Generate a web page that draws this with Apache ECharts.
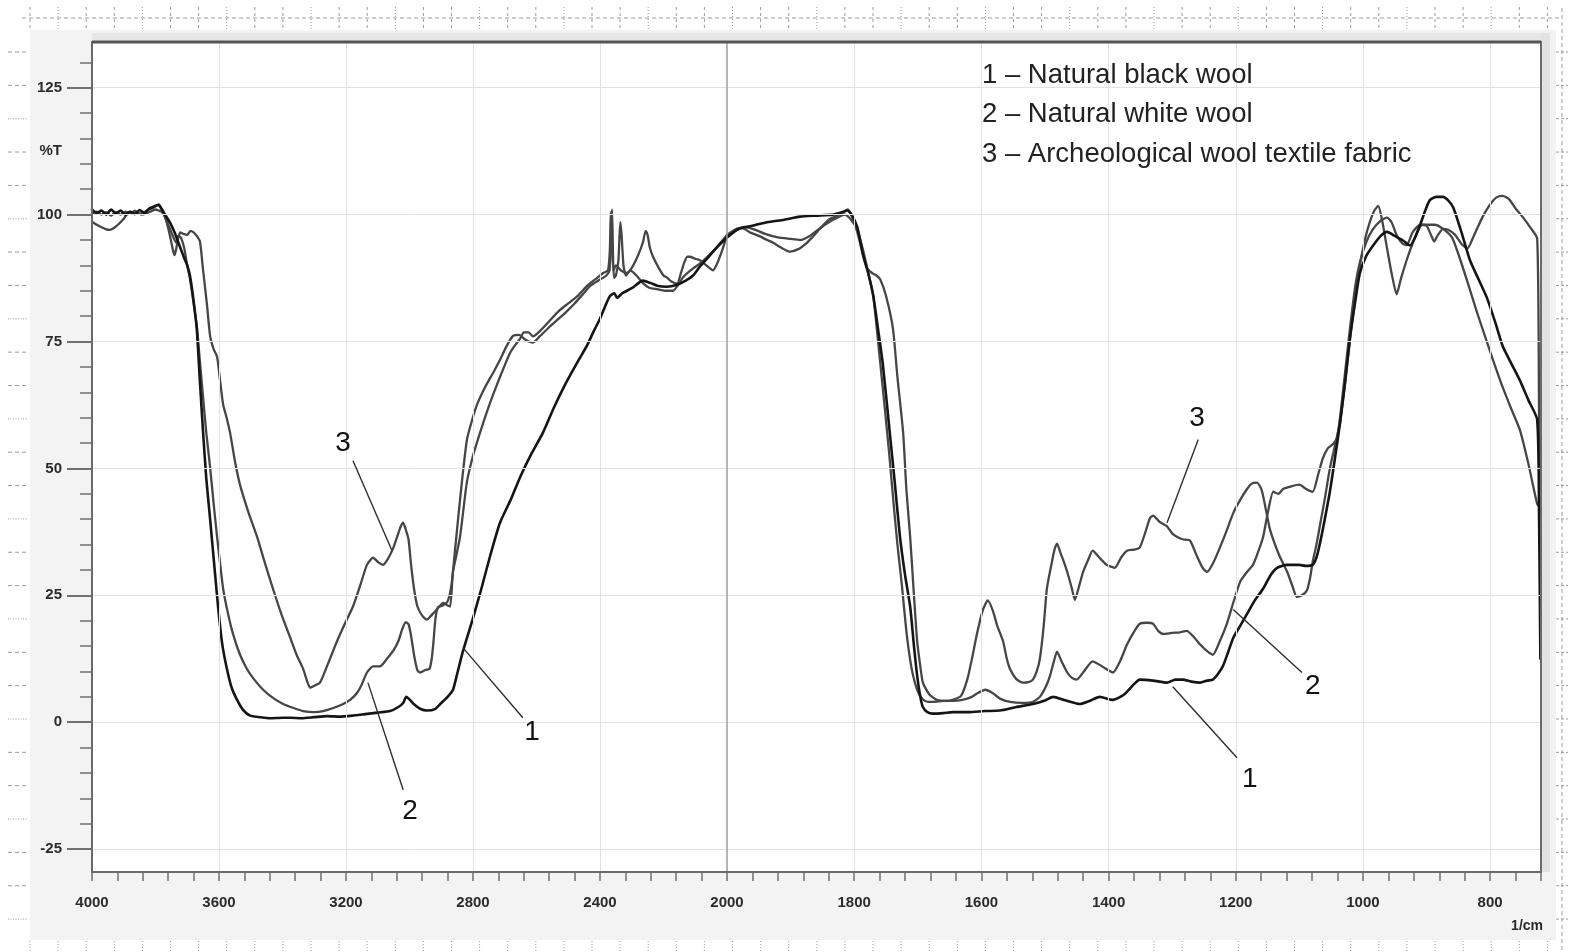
<!DOCTYPE html>
<html>
<head>
<meta charset="utf-8">
<title>FTIR spectra of wool samples</title>
<script src="https://cdn.jsdelivr.net/npm/echarts@6/dist/echarts.min.js"></script>
<style>
  html, body { margin: 0; padding: 0; background: #ffffff; }
  #chart { width: 1569px; height: 952px; }
</style>
</head>
<body>
<div id="chart"></div>
<script>
// ---------------------------------------------------------------
// Spectra: [wavenumber (1/cm), transmittance (%T)]
// ---------------------------------------------------------------
const blackWool = [
  [4000,101],[3985,100.3],[3970,100.8],[3955,100],[3940,101],[3925,100.2],[3910,100.8],[3895,100],
  [3880,100.6],[3865,100.1],[3850,100.9],[3835,100.3],[3820,101.2],[3805,101.6],[3790,102],[3780,101],
  [3770,100],[3755,98.5],[3740,96.5],[3725,94],[3710,91.5],[3700,90],[3691,87.8],[3680,83],[3670,77.5],
  [3660,67],[3650,57],[3640,48],[3628,40],[3615,31],[3603,22.8],[3590,15.5],[3575,10.5],[3560,6.8],
  [3543,4.4],[3525,2.5],[3502,1.3],[3470,1],[3440,0.8],[3400,0.9],[3376,0.9],[3340,0.8],[3300,1],
  [3260,1.2],[3220,1.1],[3180,1.3],[3140,1.6],[3100,1.9],[3061,2.2],[3035,3],[3020,3.8],[3010,5],
  [3000,4.5],[2985,3.5],[2965,2.6],[2945,2.3],[2920,2.6],[2900,3.8],[2880,5],[2863,6.4],[2850,9.5],
  [2832,13.9],[2800,20.5],[2775,26],[2745,33],[2715,39.3],[2680,44],[2650,48.5],[2615,53],[2580,57],
  [2545,62],[2510,66.5],[2475,70.5],[2441,74.2],[2420,77],[2400,79.5],[2380,82.5],[2368,84],[2355,84.5],
  [2346,83.6],[2330,84.5],[2300,85.5],[2265,87],[2240,86.5],[2220,86],[2190,85.8],[2157,86.2],[2130,87],
  [2107,88],[2085,89.8],[2060,91.5],[2040,93],[2020,94.3],[2000,95.5],
  [1980,97.3],[1960,97.8],[1937,98.5],[1910,99],[1885,99.6],[1860,99.8],[1833,100],[1818,100.5],
  [1811,100.8],[1805,100.2],[1795,97.5],[1786,92],[1778,88.5],[1770,84],[1762,77],[1755,70.6],[1744,57],
  [1736,47],[1728,36.5],[1720,29],[1712,22.8],[1706,15],[1701,9.2],[1696,5],[1692,3],[1685,2],[1676,1.7],
  [1660,1.8],[1645,2],[1620,2],[1595,2.2],[1571,2.3],[1545,3],[1519,3.6],[1500,4.3],[1487,5],[1470,4.4],
  [1445,3.6],[1430,4.2],[1414,5],[1393,4.4],[1375,5.5],[1360,7.5],[1351,8.4],[1330,8.2],[1308,7.8],
  [1295,8.4],[1283,8.4],[1270,8],[1256,7.8],[1245,8.2],[1236,8.4],[1228,9.5],[1220,11.1],[1212,13.8],
  [1204,16.6],[1193,19],[1182,21.4],[1170,24],[1157,26.3],[1145,29],[1135,30.4],[1120,31],[1100,31],
  [1090,30.8],[1079,31],[1073,32.5],[1068,35],[1060,40],[1052,45.4],[1044,52],[1036,59],[1028,67],
  [1020,76],[1012,83],[1005,88.4],[995,91.8],[984,93.9],[972,95.8],[962,96.6],[950,95.8],[937,94.9],
  [926,93.9],[918,95.5],[910,98],[902,100.8],[895,102.8],[885,103.5],[874,103.5],[866,102.8],[858,101.4],
  [845,96.5],[832,91.1],[818,87.2],[805,83.6],[792,78.8],[780,74],[766,70.5],[753,67.3],[740,63.5],
  [726,59.6],[723,40],[721,12.5]
];

const whiteWool = [
  [4000,98.6],[3985,98],[3970,97.5],[3955,97.1],[3945,97],[3930,97.4],[3915,98.2],[3900,99.2],[3890,100],
  [3875,100.4],[3860,100.5],[3845,100],[3830,100.2],[3815,100.6],[3800,101],[3790,100.8],[3780,100.5],
  [3770,99.5],[3760,98],[3750,96.5],[3740,95],[3735,94.5],[3728,95.8],[3720,95.5],[3710,93.5],[3700,90],
  [3691,87.2],[3680,82.5],[3669,77.5],[3660,71],[3650,63.9],[3640,57],[3628,50.2],[3616,42.5],[3606,36.5],
  [3596,31],[3587,26.3],[3572,21.5],[3556,17.4],[3535,13.5],[3512,10.5],[3490,8.5],[3461,6.4],[3430,4.8],
  [3398,3.6],[3365,2.8],[3335,2.2],[3300,2],[3272,2.2],[3240,2.8],[3209,3.6],[3185,4.5],[3165,5.8],
  [3150,7.5],[3134,9.8],[3115,11],[3093,11],[3071,12.5],[3050,14.2],[3035,16],[3022,18.5],[3012,19.7],
  [3003,19.3],[2995,17],[2985,13],[2975,10.2],[2967,9.8],[2950,10.3],[2937,10.5],[2930,12.5],[2925,15.5],
  [2918,20.5],[2910,22.7],[2895,23],[2880,23.8],[2868,27],[2858,33],[2847,40],[2833,48.5],[2819,55.7],
  [2803,59.5],[2787,62.6],[2770,65],[2756,66.7],[2735,69],[2715,71.4],[2695,74],[2674,76.1],[2655,76.3],
  [2640,75.6],[2625,75],[2611,74.8],[2590,76],[2557,78],[2530,79.5],[2504,81],[2480,82.5],[2454,84.3],
  [2430,86],[2400,87.2],[2380,88],[2370,89],[2365,96],[2362,101],[2359,92],[2356,87.5],[2350,88],
  [2342,91],[2336,98.5],[2332,96],[2326,90],[2318,88],[2305,89],[2285,88],[2265,86.5],[2245,85.6],
  [2220,85.3],[2195,85],[2170,85],[2150,86.5],[2139,87.6],[2115,89],[2085,90.4],[2060,91.8],[2040,93],
  [2020,94.5],[2000,96],
  [1985,97.2],[1970,97.5],[1955,97],[1940,96.2],[1920,95.5],[1900,95.2],[1885,95],[1870,95.8],[1855,97.2],
  [1840,98.5],[1825,99.5],[1815,100],[1805,99],[1795,97],[1785,92.5],[1777,88],[1770,84],[1760,72],
  [1752,62],[1745,53],[1738,43],[1732,35],[1725,27],[1718,18],[1711,11.5],[1705,8],[1698,5.5],[1692,4.5],
  [1684,4],[1676,4],[1660,4.2],[1645,4.2],[1630,4.4],[1615,5],[1605,5.8],[1594,6.4],[1583,5.8],[1570,4.6],
  [1555,4],[1535,3.8],[1519,4],[1508,5],[1498,7.2],[1492,9.2],[1486,12],[1481,13.9],[1474,12],[1465,9.8],
  [1458,8.8],[1450,8.4],[1440,9.8],[1425,12],[1410,11],[1393,9.8],[1382,12],[1371,15.3],[1360,17.8],
  [1351,19.4],[1340,19.6],[1330,19.4],[1322,18],[1314,17.4],[1300,17.6],[1288,17.7],[1277,18],[1266,16.8],
  [1256,15.3],[1245,14],[1236,13.3],[1225,16],[1214,19.4],[1204,23.5],[1193,27.7],[1183,29.5],[1173,31],
  [1165,33.5],[1157,36.5],[1150,41],[1141,45.4],[1133,45],[1125,46],[1112,46.5],[1100,46.8],[1090,46],
  [1079,45.4],[1070,49],[1063,52],[1055,54],[1047,54.8],[1041,56],[1036,60],[1028,69],[1020,78],[1012,86],
  [1005,90.5],[995,94.5],[985,97],[972,98.8],[962,99.4],[955,98.5],[947,96],[938,94.3],[931,94],[922,96.5],
  [910,98],[900,97.8],[893,96],[888,94.7],[882,96],[874,97.2],[866,97],[855,96],[845,94.2],[836,93.3],
  [825,96],[812,99.5],[800,102],[790,103.4],[780,103.7],[770,103],[760,101.2],[748,99.4],[737,97.5],
  [726,95.3],[723,60],[721,38]
];

const archeoFabric = [
  [4000,100.2],[3985,100.6],[3970,100],[3955,100.5],[3940,99.8],[3925,100.5],[3910,100],[3895,100.6],
  [3880,100.2],[3865,100.8],[3850,100.2],[3835,100.5],[3820,101],[3805,101.4],[3795,101.8],[3785,101.5],
  [3775,100.5],[3765,98.5],[3755,96],[3745,93],[3740,92],[3734,93.5],[3728,95.5],[3722,96.5],[3712,96.2],
  [3700,96],[3690,96.8],[3680,96.5],[3670,95.8],[3660,94.7],[3650,89],[3638,82.3],[3628,76.1],[3617,73.5],
  [3606,72],[3597,67.5],[3587,62.6],[3576,60],[3565,57],[3550,51.5],[3534,46.8],[3508,41.5],[3480,36.5],
  [3455,31.3],[3430,26.3],[3403,21.2],[3376,16.7],[3355,13.2],[3335,10.5],[3322,8],[3313,6.8],[3300,7.2],
  [3282,7.8],[3255,11.8],[3228,16],[3203,19.5],[3178,22.8],[3155,27],[3134,31],[3115,32.4],[3098,31.5],
  [3083,31],[3070,32],[3061,33],[3050,34.5],[3039,36.5],[3028,38.5],[3020,39.3],[3012,38],[3003,36],
  [2995,31],[2985,26],[2975,22.8],[2960,21],[2945,20.2],[2935,20.8],[2926,21.4],[2910,22.5],[2894,23.5],
  [2880,23],[2872,22.8],[2863,29.6],[2852,33],[2841,36.5],[2830,42],[2819,47.4],[2800,52.5],[2778,57],
  [2757,61],[2737,64.5],[2710,68.8],[2683,72.8],[2665,74.5],[2652,75.5],[2640,76.8],[2625,76.8],[2611,76],
  [2590,77],[2560,79],[2530,81],[2500,82.5],[2470,84],[2440,86],[2410,87.5],[2390,88.5],[2375,89],
  [2369,93],[2366,100.5],[2362,93],[2357,89],[2350,90],[2334,89],[2315,88.5],[2300,89.5],[2280,92],
  [2265,94.5],[2256,96.8],[2250,96],[2243,93.5],[2233,91.7],[2215,89.5],[2200,88],[2189,87.6],[2175,86.8],
  [2157,86.4],[2145,88.5],[2135,90.5],[2125,91.7],[2117,91.7],[2100,91.3],[2085,91],[2065,90],[2044,89],
  [2030,90.5],[2015,93],[2000,95.9],
  [1985,97],[1975,97.3],[1964,96.5],[1950,95.8],[1937,95],[1928,94.5],[1915,93.5],[1901,92.7],[1888,93.2],
  [1874,94.5],[1864,95.8],[1854,97.2],[1840,99],[1830,99.6],[1820,100.2],[1810,101],[1803,99.5],[1795,96.5],
  [1788,93],[1780,89.5],[1772,88.5],[1765,88],[1759,87.2],[1750,84],[1739,77.5],[1732,68],[1723,57],
  [1718,46],[1712,36.5],[1706,25],[1701,16],[1696,11],[1692,7.8],[1682,5.5],[1670,4.4],[1655,4.2],
  [1645,4.4],[1632,5.2],[1622,8.5],[1614,13],[1607,17.4],[1598,22],[1590,24],[1582,22],[1575,19],[1566,16],
  [1560,12.5],[1555,10.5],[1545,8.5],[1535,7.8],[1526,7.9],[1519,8.4],[1513,10],[1508,12.5],[1502,19],
  [1497,26.3],[1490,31],[1485,34],[1481,35.2],[1476,33.5],[1470,31.5],[1465,29.6],[1458,26.5],[1453,24.1],
  [1447,26.5],[1440,29.6],[1432,32],[1425,33.8],[1415,32.5],[1403,31],[1395,30.6],[1390,30.4],[1380,32.5],
  [1371,33.8],[1360,34],[1351,34.4],[1342,37.5],[1335,40.2],[1330,40.7],[1320,39.5],[1308,38.6],[1300,37.2],
  [1292,36.5],[1282,36],[1272,35.8],[1262,33],[1252,30.4],[1245,29.6],[1235,31.5],[1225,34.4],[1215,37.5],
  [1204,41.2],[1193,43.8],[1182,46],[1175,47],[1167,47.2],[1160,46],[1157,44.6],[1152,41.5],[1146,37.9],
  [1132,33],[1119,29.6],[1110,26.5],[1104,24.7],[1096,25],[1088,26],[1083,28.5],[1079,31.6],[1073,35],
  [1068,38.5],[1060,44],[1052,50],[1044,54.5],[1036,59],[1028,67],[1020,76],[1012,83.5],[1005,89.8],
  [997,95],[989,98.6],[982,100.8],[976,101.7],[970,99],[963,94],[955,88.5],[947,84.3],[940,87.5],
  [930,91.5],[921,94.6],[913,97],[906,98],[895,98],[887,98],[874,97.2],[860,95.5],[848,91.5],[835,86.5],
  [821,80.9],[808,76],[795,71.2],[780,65.9],[766,61.5],[753,57.5],[740,51],[726,43],[722,42.5]
];

// Legend lines and curve number tags with their leader lines
const legendLines = [
  '1 \u2013 Natural black wool',
  '2 \u2013 Natural white wool',
  '3 \u2013 Archeological wool textile fabric'
];
const tagsHigh = [['3', 3209, 55], ['2', 2998, -17.6], ['1', 2614, -1.9]];          // 4000-2000 region
const leadersHigh = [[[3178, 51.5], [3055, 33.8]], [[3131, 7.8], [3020, -13.3]], [[2832, 14.7], [2643, 0.9]]];
const tagsLow = [['3', 1261, 59.8], ['2', 1079, 7], ['1', 1178, -11.3]];            // 2000-720 region
const leadersLow = [[[1259, 55.7], [1308, 39.3]], [[1204, 22.2], [1096, 9.8]], [[1299, 7], [1198, -7]]];

// Axis ticks / labels
const yMajorTicks = [-25, 0, 25, 50, 75, 100, 125];
const yMinorTicks = [-20,-15,-10,-5,5,10,15,20,30,35,40,45,55,60,65,70,80,85,90,95,105,110,115,120,130];
const yUnitAt = 112.5;
const xGridHigh = [3600, 3200, 2800, 2400];
const xGridLow = [1800, 1600, 1400, 1200, 1000, 800];

// ---------------------------------------------------------------
// Layout: the 4000-2000 range is drawn at half the scale of 2000-720
// ---------------------------------------------------------------
const W = 1569, H = 952;
const PLOT = { left: 92, top: 42, bottom: 872, split: 727, right: 1541 };
const Y_MIN = -29.5, Y_MAX = 134;
const SPLIT_WN = 2000;

const FONT = '"Liberation Sans", Arial, sans-serif';
const TICK_COLOR = '#707070';
const tickLabel = { fontFamily: FONT, fontSize: 15, fontWeight: 'bold', color: '#2b2b2b' };

const part = (pts, high) => pts.filter(p => high ? p[0] >= SPLIT_WN : p[0] <= SPLIT_WN);

const curves = [
  { name: '1', pts: blackWool, color: '#151515', width: 2.6 },
  { name: '2', pts: whiteWool, color: '#464646', width: 2.3 },
  { name: '3', pts: archeoFabric, color: '#464646', width: 2.3 }
];

const series = [];

// faint reference grid + 2000 divider
const gridLineStyle = { color: '#e2e2e2', width: 1, type: 'solid' };
series.push({
  type: 'line', xAxisIndex: 0, yAxisIndex: 0, data: [], silent: true, z: 1,
  markLine: {
    silent: true, symbol: ['none', 'none'], label: { show: false }, animation: false,
    lineStyle: gridLineStyle,
    data: yMajorTicks.map(v => ({ yAxis: v })).concat(xGridHigh.map(v => ({ xAxis: v })))
  }
});
series.push({
  type: 'line', xAxisIndex: 1, yAxisIndex: 2, data: [], silent: true, z: 1,
  markLine: {
    silent: true, symbol: ['none', 'none'], label: { show: false }, animation: false,
    lineStyle: gridLineStyle,
    data: yMajorTicks.map(v => ({ yAxis: v })).concat(xGridLow.map(v => ({ xAxis: v })))
      .concat([{ xAxis: SPLIT_WN, lineStyle: { color: '#9c9c9c', width: 1.5 } }])
  }
});

curves.forEach(c => {
  [true, false].forEach(high => {
    series.push({
      name: c.name, type: 'line',
      xAxisIndex: high ? 0 : 1, yAxisIndex: high ? 0 : 2,
      data: part(c.pts, high),
      showSymbol: false, symbol: 'none', smooth: 0.2, z: c.name === '1' ? 4 : 3,
      lineStyle: { color: c.color, width: c.width, cap: 'round', join: 'round' },
      silent: true
    });
  });
});

[[leadersHigh, 0, 0], [leadersLow, 1, 2]].forEach(([list, xi, yi]) => {
  list.forEach(seg => series.push({
    type: 'line', xAxisIndex: xi, yAxisIndex: yi, data: seg, symbol: 'none', silent: true, z: 5,
    lineStyle: { color: '#2e2e2e', width: 1.4 }
  }));
});

[[tagsHigh, 0, 0], [tagsLow, 1, 2]].forEach(([list, xi, yi]) => {
  series.push({
    type: 'scatter', xAxisIndex: xi, yAxisIndex: yi, silent: true, z: 6,
    symbolSize: 0, itemStyle: { color: '#111111', opacity: 1 },
    data: list.map(t => ({ name: t[0], value: [t[1], t[2]] })),
    label: {
      show: true, position: 'inside', formatter: '{b}', fontFamily: FONT, fontSize: 28,
      color: '#111111', opacity: 1, textBorderWidth: 0, textShadowBlur: 0
    }
  });
});

// ---------------------------------------------------------------
// Decorative frame, graph-paper rulers, legend text
// ---------------------------------------------------------------
const graphics = [];
graphics.push({ type: 'rect', z: -20, shape: { x: 30, y: 30, width: 1526, height: 910 }, style: { fill: '#f3f3f3' } });
graphics.push({ type: 'rect', z: -19, shape: { x: PLOT.left, y: PLOT.top - 9, width: PLOT.right - PLOT.left + 9, height: 9 }, style: { fill: '#e6e6e6' } });
graphics.push({ type: 'rect', z: -19, shape: { x: PLOT.right, y: PLOT.top - 9, width: 9, height: PLOT.bottom - PLOT.top + 9 }, style: { fill: '#e2e2e2' } });
graphics.push({ type: 'rect', z: -18, shape: { x: PLOT.left, y: PLOT.top, width: PLOT.right - PLOT.left, height: PLOT.bottom - PLOT.top }, style: { fill: '#ffffff' } });
graphics.push({ type: 'rect', z: 100, shape: { x: PLOT.left, y: PLOT.top, width: PLOT.right - PLOT.left, height: PLOT.bottom - PLOT.top }, style: { fill: 'none', stroke: '#6a6a6a', lineWidth: 2 } });
graphics.push({ type: 'line', z: 100, shape: { x1: PLOT.left, y1: PLOT.top, x2: PLOT.right, y2: PLOT.top }, style: { stroke: '#555', lineWidth: 3 } });

const rulerColor = '#9c9c9c';
graphics.push({ type: 'line', z: -10, shape: { x1: 22, y1: 18, x2: 1562, y2: 18 }, style: { stroke: rulerColor, lineWidth: 1, lineDash: [4, 3] } });
graphics.push({ type: 'line', z: -10, shape: { x1: 1562, y1: 8, x2: 1562, y2: 952 }, style: { stroke: rulerColor, lineWidth: 1, lineDash: [4, 3] } });
for (let i = 0, x = 30; x < 1560; i++, x += 28.1) {
  const dotted = i % 3 === 1;
  graphics.push({ type: 'line', z: -10, shape: { x1: x, y1: 7, x2: x, y2: 30 }, style: { stroke: rulerColor, lineWidth: 1, lineDash: dotted ? [1, 2] : [3, 3] } });
  graphics.push({ type: 'line', z: -10, shape: { x1: x, y1: 941, x2: x, y2: 952 }, style: { stroke: rulerColor, lineWidth: 1, lineDash: [1, 2] } });
}
for (let i = 0, y = 52; y < 935; i++, y += 33.35) {
  const dotted = i % 3 === 2;
  graphics.push({ type: 'line', z: -10, shape: { x1: 8, y1: y, x2: 28, y2: y }, style: { stroke: rulerColor, lineWidth: 1, lineDash: dotted ? [1, 1.5] : [4, 3] } });
  graphics.push({ type: 'line', z: -10, shape: { x1: 1556, y1: y, x2: 1568, y2: y }, style: { stroke: rulerColor, lineWidth: 1, lineDash: [3, 2] } });
}

legendLines.forEach((t, i) => {
  graphics.push({
    type: 'text', z: 20, x: 982, y: 75 + i * 39.5,
    style: { text: t, font: '27.5px ' + FONT, fill: '#222', verticalAlign: 'middle', align: 'left' }
  });
});
graphics.push({
  type: 'text', z: 20, x: 1543, y: 926,
  style: { text: '1/cm', font: 'bold 14px ' + FONT, fill: '#2b2b2b', verticalAlign: 'middle', align: 'right' }
});

// ---------------------------------------------------------------
const xTickStyle = { show: true, length: 9, lineStyle: { color: TICK_COLOR, width: 1.5 } };
const option = {
  animation: false,
  backgroundColor: '#ffffff',
  grid: [
    { left: PLOT.left, top: PLOT.top, width: PLOT.split - PLOT.left, height: PLOT.bottom - PLOT.top, show: false },
    { left: PLOT.split, top: PLOT.top, width: PLOT.right - PLOT.split, height: PLOT.bottom - PLOT.top, show: false }
  ],
  xAxis: [
    {
      gridIndex: 0, type: 'value', min: 2000, max: 4000, interval: 80, inverse: true, position: 'bottom',
      axisLine: { show: false, onZero: false }, splitLine: { show: false },
      axisTick: xTickStyle,
      axisLabel: Object.assign({ margin: 23, formatter: v => (v % 400 === 0 ? String(v) : '') }, tickLabel)
    },
    {
      gridIndex: 1, type: 'value', min: 720, max: 2000, interval: 40, inverse: true, position: 'bottom',
      axisLine: { show: false, onZero: false }, splitLine: { show: false },
      axisTick: xTickStyle,
      axisLabel: Object.assign({ margin: 23, formatter: v => (v % 200 === 0 && v !== 2000 ? String(v) : '') }, tickLabel)
    }
  ],
  yAxis: [
    {
      gridIndex: 0, type: 'value', min: Y_MIN, max: Y_MAX, position: 'left',
      axisLine: { show: false, onZero: false }, splitLine: { show: false },
      axisTick: { show: true, customValues: yMajorTicks, length: 25, lineStyle: { color: TICK_COLOR, width: 2 } },
      axisLabel: Object.assign({
        margin: 30,
        customValues: yMajorTicks.concat([yUnitAt]),
        formatter: v => (v === yUnitAt ? '%T' : String(v))
      }, tickLabel)
    },
    {
      gridIndex: 0, type: 'value', min: Y_MIN, max: Y_MAX, position: 'left',
      axisLine: { show: false, onZero: false }, splitLine: { show: false }, axisLabel: { show: false },
      axisTick: { show: true, customValues: yMinorTicks, length: 12, lineStyle: { color: TICK_COLOR, width: 1.5 } }
    },
    { gridIndex: 1, type: 'value', min: Y_MIN, max: Y_MAX, show: false }
  ],
  graphic: { elements: graphics },
  series: series
};

const chart = echarts.init(document.getElementById('chart'), null, { renderer: 'canvas', width: W, height: H });
chart.setOption(option);
</script>
</body>
</html>
